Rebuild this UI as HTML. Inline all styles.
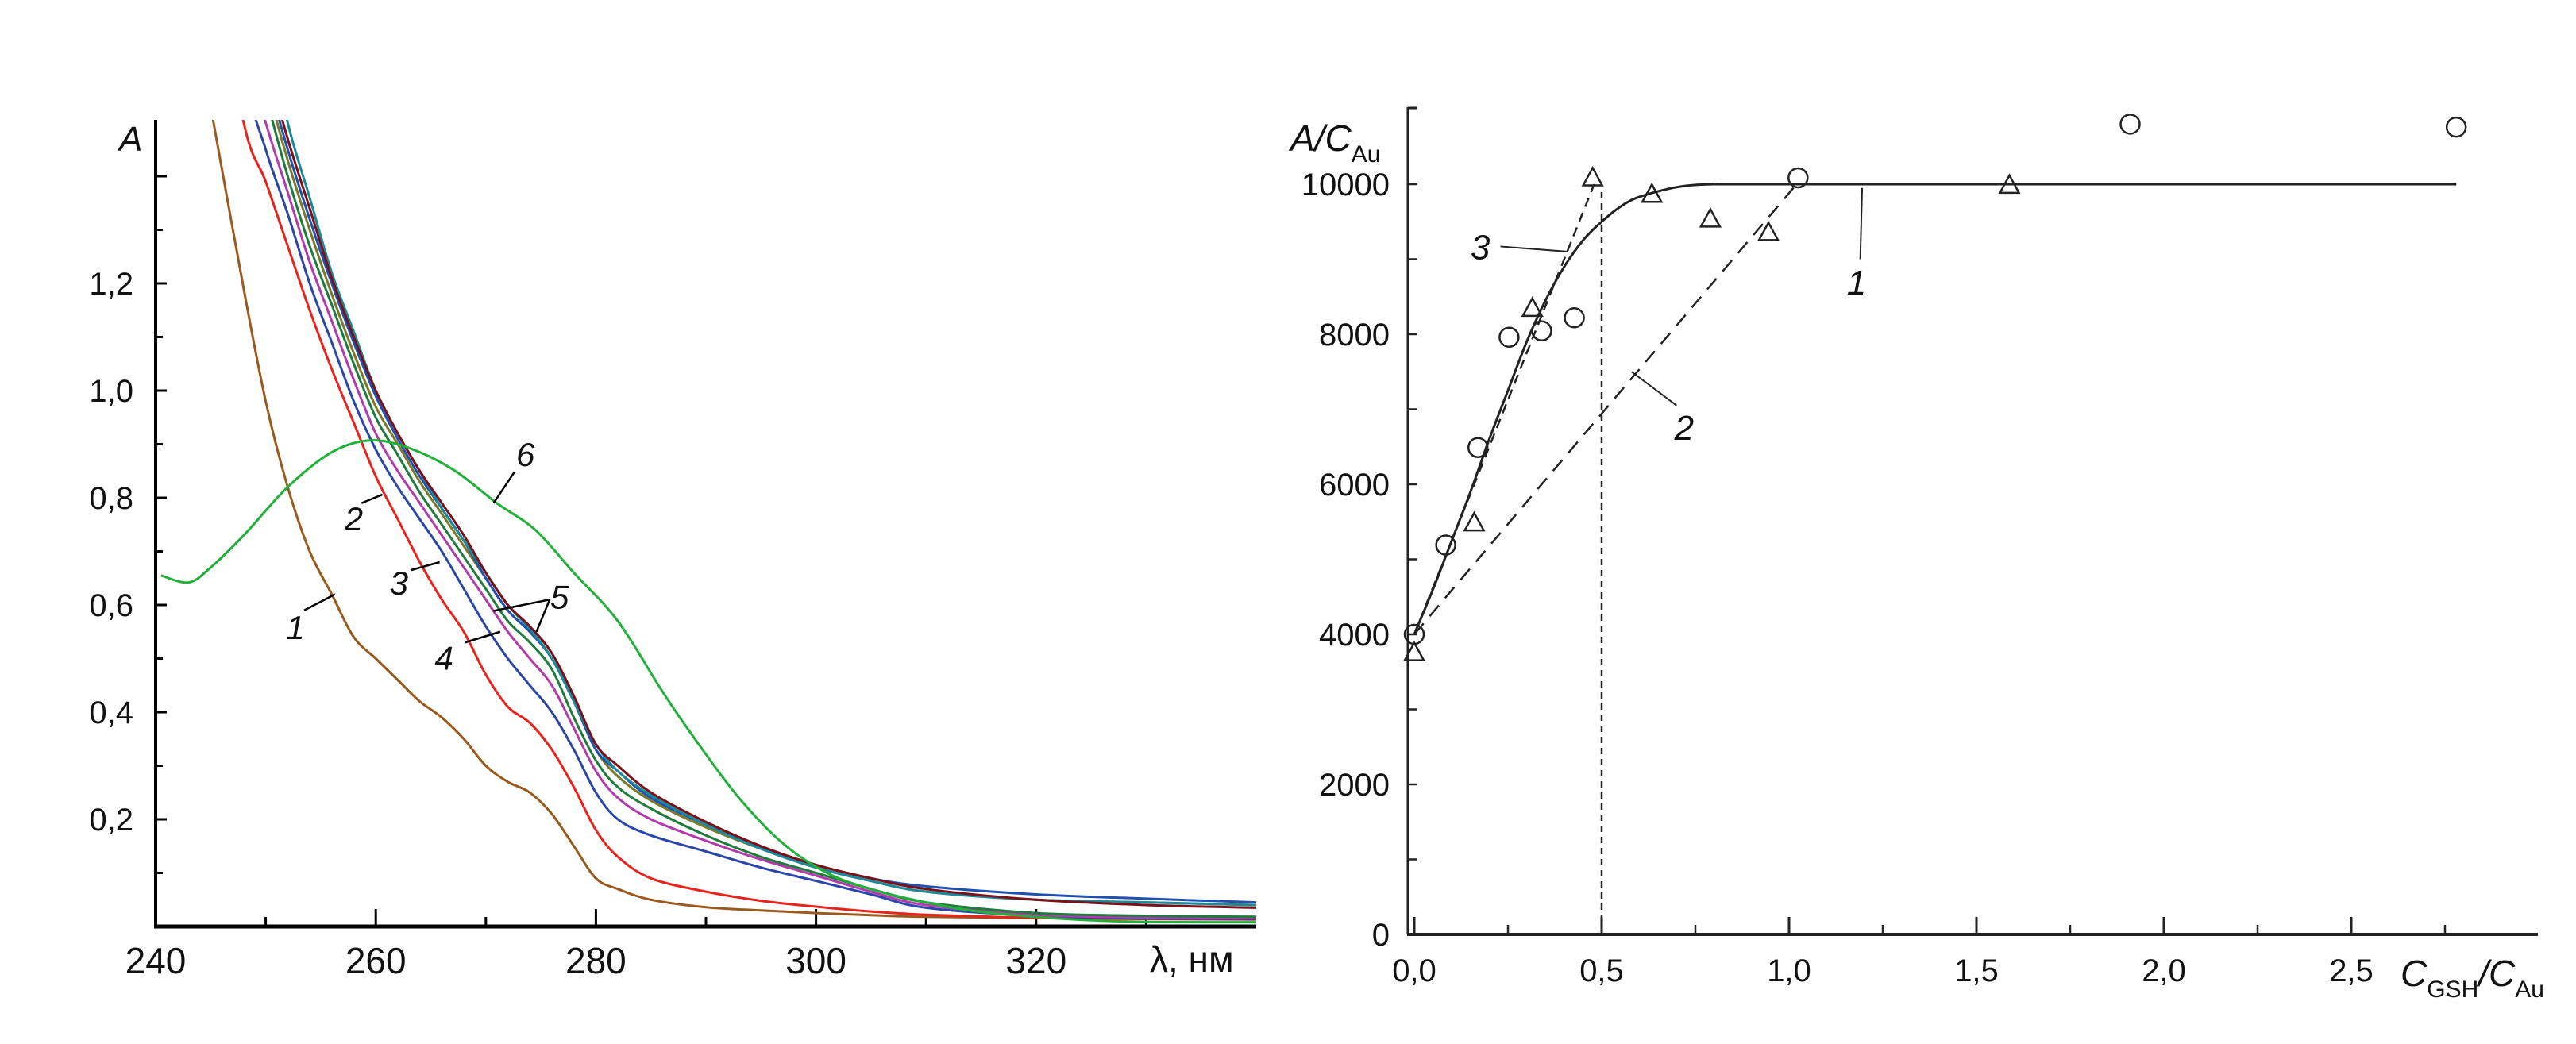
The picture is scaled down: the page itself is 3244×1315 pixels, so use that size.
<!DOCTYPE html>
<html><head><meta charset="utf-8"><style>
html,body{margin:0;padding:0;background:#fff}
svg{display:block}
text{font-family:"Liberation Sans",Arial,sans-serif;fill:#111}
</style></head><body>
<svg id="fig" width="3244" height="1315" viewBox="0 0 3244 1315" xmlns="http://www.w3.org/2000/svg">
<defs><clipPath id="clipL"><rect x="196" y="151" width="1386" height="1020"/></clipPath></defs>
<g id="left"></g>
<g id="right"></g>
</svg>
<script>
// ---------- LEFT CHART DATA ----------
const wlGrid=[245,248,250,252,254,256,258,260,262,264,266,268,270,272,274,276,278,280,282,285,290,295,300,305,310,320,330,340];
const aBrown=[1.53,1.19,0.98,0.82,0.70,0.62,0.54,0.50,0.46,0.42,0.39,0.35,0.30,0.27,0.25,0.21,0.15,0.09,0.07,0.05,0.036,0.03,0.025,0.021,0.018,0.016,0.015,0.014];
const aRed=[1.85,1.5,1.39,1.27,1.15,1.04,0.94,0.84,0.76,0.68,0.61,0.55,0.47,0.41,0.38,0.33,0.26,0.18,0.13,0.09,0.065,0.048,0.037,0.028,0.022,0.016,0.014,0.013];
const aBlue=[2.0,1.6,1.45,1.33,1.20,1.09,0.98,0.89,0.82,0.76,0.70,0.63,0.56,0.50,0.45,0.40,0.33,0.25,0.20,0.17,0.14,0.11,0.085,0.06,0.035,0.02,0.015,0.014];
const aMagenta=[2.0,1.65,1.5,1.37,1.24,1.13,1.02,0.92,0.85,0.79,0.73,0.67,0.61,0.55,0.50,0.45,0.37,0.29,0.24,0.20,0.16,0.125,0.095,0.065,0.04,0.022,0.017,0.016];
const aDkGreen=[2.0,1.7,1.55,1.4,1.27,1.16,1.05,0.95,0.88,0.81,0.75,0.69,0.63,0.57,0.53,0.48,0.39,0.31,0.26,0.22,0.17,0.13,0.1,0.07,0.045,0.025,0.02,0.018];
const aOlive=[2.0,1.75,1.58,1.43,1.30,1.18,1.07,0.97,0.90,0.83,0.77,0.71,0.65,0.59,0.55,0.50,0.42,0.33,0.28,0.235,0.185,0.145,0.11,0.085,0.065,0.05,0.045,0.04];
const aMaroon=[2.1,1.8,1.62,1.47,1.34,1.21,1.10,1.00,0.92,0.85,0.79,0.73,0.66,0.60,0.56,0.51,0.43,0.34,0.30,0.25,0.195,0.15,0.115,0.09,0.07,0.05,0.04,0.035];
const aTeal=[2.2,1.9,1.7,1.5,1.36,1.22,1.11,1.0,0.92,0.85,0.78,0.72,0.66,0.60,0.555,0.50,0.42,0.34,0.29,0.245,0.19,0.145,0.11,0.085,0.065,0.05,0.045,0.04];
const aNavy=[2.1,1.78,1.6,1.45,1.32,1.20,1.09,0.99,0.91,0.84,0.78,0.72,0.65,0.59,0.55,0.50,0.42,0.33,0.29,0.24,0.19,0.148,0.115,0.09,0.075,0.06,0.052,0.045];
const wlGreen=[240.5,243,245,248,252,256,259.5,263,267,271,274.5,278,282,286,289,293,297,301,305,310,316,327,340];
const aGreen=[0.655,0.642,0.67,0.73,0.82,0.885,0.907,0.893,0.853,0.79,0.74,0.66,0.57,0.44,0.35,0.24,0.155,0.1,0.07,0.045,0.025,0.01,0.008];
const xTicksL=[240,260,280,300,320];
const yTicksL=[0.2,0.4,0.6,0.8,1.0,1.2];
const yTickLabelsL=["0,2","0,4","0,6","0,8","1,0","1,2"];

// ---------- RIGHT CHART DATA ----------
const circX=[0,0.084,0.17,0.253,0.34,0.427,1.024,1.91,2.78];
const circY=[4000,5190,6490,7960,8045,8220,10085,10800,10760];
const triX=[0,0.16,0.315,0.476,0.634,0.79,0.945,1.588];
const triY=[3750,5480,8340,10080,9860,9530,9350,9980];
const fitX=[0,0.05,0.1,0.15,0.2,0.25,0.3,0.35,0.4,0.45,0.5,0.55,0.6,0.7,0.8,1.0,2.78];
const fitY=[4000,4600,5250,5900,6600,7250,7900,8450,8900,9250,9500,9700,9830,9960,10000,10000,10000];
const line2X=[0,1.02];
const line2Y=[4000,10000];
const line3X=[0,0.48];
const line3Y=[4000,10000];
const xTicksR=[0,0.5,1.0,1.5,2.0,2.5];
const xTickLabelsR=["0,0","0,5","1,0","1,5","2,0","2,5"];
const yTicksR=[0,2000,4000,6000,8000,10000];

const NS="http://www.w3.org/2000/svg";
function mk(parent,tag,attrs,txt){const e=document.createElementNS(NS,tag);for(const k in attrs)e.setAttribute(k,attrs[k]);if(txt!==undefined)e.textContent=txt;parent.appendChild(e);return e;}
function smooth(pts){let d="M"+pts[0][0].toFixed(1)+","+pts[0][1].toFixed(1);for(let i=0;i<pts.length-1;i++){const p0=pts[Math.max(0,i-1)],p1=pts[i],p2=pts[i+1],p3=pts[Math.min(pts.length-1,i+2)];const c1=[p1[0]+(p2[0]-p0[0])/6,p1[1]+(p2[1]-p0[1])/6],c2=[p2[0]-(p3[0]-p1[0])/6,p2[1]-(p3[1]-p1[1])/6];d+="C"+c1[0].toFixed(1)+","+c1[1].toFixed(1)+" "+c2[0].toFixed(1)+","+c2[1].toFixed(1)+" "+p2[0].toFixed(1)+","+p2[1].toFixed(1);}return d;}

// ---- left axes functions
const xL=v=>196+(v-240)*13.86;
const yL=v=>1167-v*675;
const L=document.getElementById('left');
let e;
e=mk(L,'line',{x1:196,y1:151,x2:196,y2:1167,stroke:'#000','stroke-width':4});

e=mk(L,'line',{x1:194,y1:1167,x2:1582,y2:1167,stroke:'#000','stroke-width':5});

for(let v=250;v<=330;v+=10){const maj=(v%20===0);e=mk(L,'line',{x1:xL(v),y1:1167,x2:xL(v),y2:1167-(maj?22:12),stroke:'#000','stroke-width':3});
}
for(let i=1;i<=14;i++){const v=i*0.1;const maj=(i%2===0);e=mk(L,'line',{x1:196,y1:yL(v),x2:196+(maj?14:9),y2:yL(v),stroke:'#000','stroke-width':3});
}
xTicksL.forEach(v=>{e=mk(L,'text',{x:xL(v),y:1226,'text-anchor':'middle','font-size':46},String(v));
});
yTicksL.forEach((v,i)=>{e=mk(L,'text',{x:168,y:yL(v)+14,'text-anchor':'end','font-size':40},yTickLabelsL[i]);
});
e=mk(L,'text',{x:1448,y:1224,'font-size':46},"λ, нм");

e=mk(L,'text',{x:150,y:190,'font-size':44,'font-style':'italic'},"A");


const plotL=mk(L,'g',{'clip-path':'url(#clipL)'});
const series=[[aBrown,'#9a5a1e','spectrum-1'],[aRed,'#e8231c','spectrum-2'],[aBlue,'#2a46a8','spectrum-3'],[aMagenta,'#b23aaa','spectrum-4'],[aDkGreen,'#1f7a3c','spectrum-5a'],[aOlive,'#7a7a2a','spectrum-5b'],[aNavy,'#2050b0','spectrum-5c'],[aTeal,'#1a8a9a','spectrum-5d'],[aMaroon,'#7a1018','spectrum-5e']];
series.forEach(s=>{const pts=wlGrid.map((w,i)=>[xL(w),yL(s[0][i])]);e=mk(plotL,'path',{d:smooth(pts),fill:'none',stroke:s[1],'stroke-width':3});
});
e=mk(plotL,'path',{d:smooth(wlGreen.map((w,i)=>[xL(w),yL(aGreen[i])])),fill:'none',stroke:'#22b03a','stroke-width':3});


const labL=[["1",252.7,0.557,[[253.5,0.59,256.3,0.62]]],["2",258,0.76,[[258.7,0.79,260.6,0.806]]],["3",262.1,0.64,[[263.2,0.665,265.8,0.68]]],["4",266.2,0.50,[[268.1,0.53,271.3,0.55]]],["5",276.7,0.614,[[275.8,0.61,270.7,0.589],[275.8,0.61,274.6,0.55]]],["6",273.6,0.88,[[272.6,0.848,270.7,0.79]]]];
labL.forEach(l=>{e=mk(L,'text',{x:xL(l[1]),y:yL(l[2])+14,'text-anchor':'middle','font-size':42,'font-style':'italic'},l[0]);

l[3].forEach(s=>{const ln=mk(L,'line',{x1:xL(s[0]),y1:yL(s[1]),x2:xL(s[2]),y2:yL(s[3]),stroke:'#000','stroke-width':2.5});
});});

// ---- right axes functions
const xR=v=>1781+v*472;
const yR=v=>1177-v*0.0945;
const R=document.getElementById('right');
e=mk(R,'line',{x1:1773,y1:135,x2:1773,y2:1177,stroke:'#222','stroke-width':3});

mk(R,'line',{x1:1773,y1:136,x2:1785,y2:136,stroke:'#222','stroke-width':3});
e=mk(R,'line',{x1:1772,y1:1177,x2:3196,y2:1177,stroke:'#222','stroke-width':4});

for(let i=0;i<=11;i++){const v=i*0.25;const maj=(i%2===0);e=mk(R,'line',{x1:xR(v),y1:1177,x2:xR(v),y2:1177-(maj?22:12),stroke:'#222','stroke-width':maj?3:2.5});
}
for(let i=1;i<=10;i++){const v=i*1000;e=mk(R,'line',{x1:1773,y1:yR(v),x2:1785,y2:yR(v),stroke:'#222','stroke-width':2.5});
}
xTicksR.forEach((v,i)=>{e=mk(R,'text',{x:xR(v),y:1236,'text-anchor':'middle','font-size':40},xTickLabelsR[i]);
});
yTicksR.forEach(v=>{e=mk(R,'text',{x:1750,y:yR(v)+14,'text-anchor':'end','font-size':40},String(v));
});
e=mk(R,'text',{x:1625,y:190,'font-size':46,'font-style':'italic'});

e.innerHTML='A/C<tspan font-size="30" font-style="normal" dy="14">Au</tspan>';
e=mk(R,'text',{x:3023,y:1242,'font-size':46,'font-style':'italic'});

e.innerHTML='C<tspan font-size="30" font-style="normal" dy="14">GSH</tspan><tspan dy="-14">/C</tspan><tspan font-size="30" font-style="normal" dy="14">Au</tspan>';

e=mk(R,'line',{x1:xR(0.5),y1:yR(10000)+10,x2:xR(0.5),y2:1170,stroke:'#222','stroke-width':2.5,'stroke-dasharray':'8,6'});

e=mk(R,'path',{d:smooth(fitX.map((v,i)=>[xR(v),yR(fitY[i])])),fill:'none',stroke:'#222','stroke-width':3});

e=mk(R,'line',{x1:xR(line2X[0]),y1:yR(line2Y[0]),x2:xR(line2X[1]),y2:yR(line2Y[1]),stroke:'#222','stroke-width':2.5,'stroke-dasharray':'18,12'});

e=mk(R,'line',{x1:xR(line3X[0]),y1:yR(line3Y[0]),x2:xR(line3X[1]),y2:yR(line3Y[1]),stroke:'#222','stroke-width':2.5,'stroke-dasharray':'12,8'});

circX.forEach((v,i)=>{e=mk(R,'circle',{cx:xR(v),cy:yR(circY[i]),r:12,fill:'none',stroke:'#222','stroke-width':2.5});
});
triX.forEach((v,i)=>{const cx=xR(v),cy=yR(triY[i]);e=mk(R,'polygon',{points:`${cx},${cy-13} ${cx-12},${cy+9} ${cx+12},${cy+9}`,fill:'none',stroke:'#222','stroke-width':2.5});
});
const labR=[["3",0.176,9170,[0.23,9170,0.41,9100]],["1",1.18,8700,[1.195,9950,1.19,9000]],["2",0.72,6760,[0.7,7050,0.58,7500]]];
labR.forEach(l=>{e=mk(R,'text',{x:xR(l[1]),y:yR(l[2])+16,'text-anchor':'middle','font-size':44,'font-style':'italic'},l[0]);

const s=l[3];const ln=mk(R,'line',{x1:xR(s[0]),y1:yR(s[1]),x2:xR(s[2]),y2:yR(s[3]),stroke:'#222','stroke-width':2});
});
</script>
</body></html>
